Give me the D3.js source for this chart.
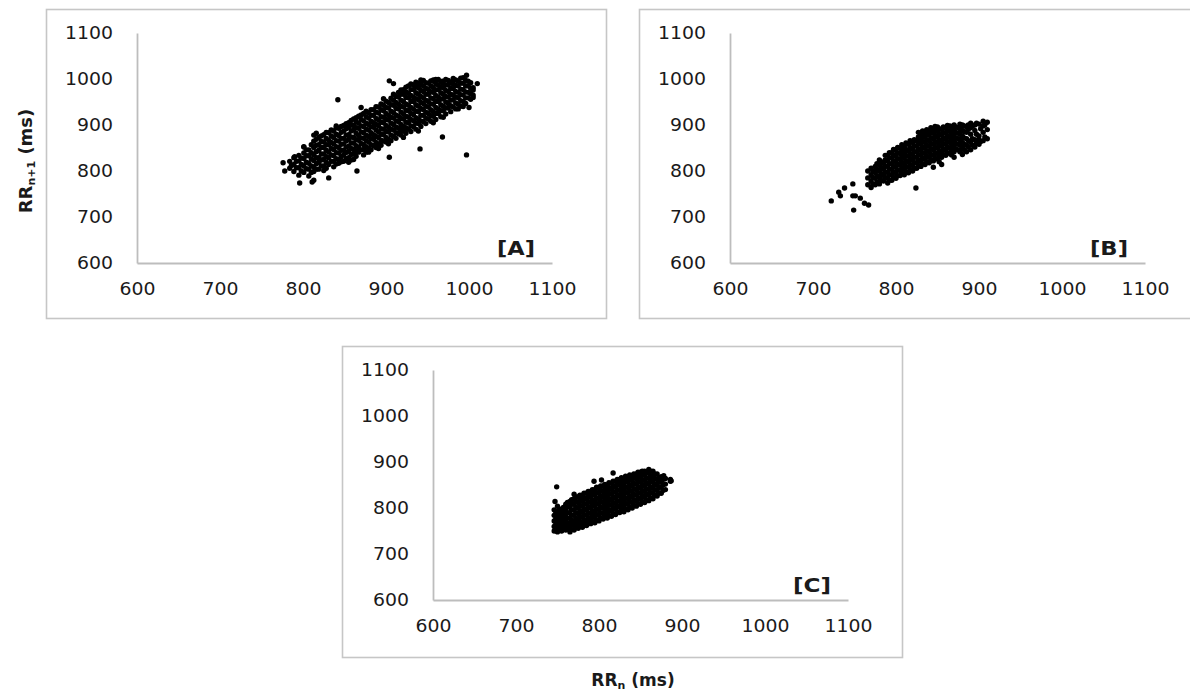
<!DOCTYPE html>
<html>
<head>
<meta charset="utf-8">
<script src="https://cdn.jsdelivr.net/npm/d3@7"></script>
<style>
  body { margin: 0; background: #fff; }
  text { font-family: "DejaVu Sans", sans-serif; fill: #1a1a1a; }
</style>
</head>
<body>
<div id="chart"></div>
<script>
// tick values shared by both axes of every panel
const tickValues = [600, 700, 800, 900, 1000, 1100];
const panelLabels = ['[A]', '[B]', '[C]'];

// RR intervals (ms): [RRn, [RRn+1 values...]]
const columnsA = [
  [784, [806, 821]], [789, [799, 814, 829]], [795, [791, 807, 822, 834]],
  [801, [797, 811, 827, 839, 853]], [807, [789, 804, 817, 833, 846]],
  [813, [799, 809, 823, 835, 851, 865]], [819, [804, 819, 829, 845, 857, 873]],
  [825, [801, 811, 825, 837, 851, 863, 879]], [831, [814, 829, 841, 857, 867, 883]],
  [837, [809, 821, 833, 847, 859, 873, 887]], [843, [817, 825, 839, 851, 865, 877, 893]],
  [849, [821, 835, 845, 859, 871, 887, 899]], [855, [819, 829, 843, 854, 869, 879, 895, 905]],
  [861, [825, 837, 847, 861, 873, 889, 899, 913]], [867, [841, 851, 867, 877, 893, 904, 919]],
  [873, [835, 847, 857, 871, 883, 897, 909, 925]], [879, [841, 849, 863, 875, 889, 901, 915, 927]],
  [885, [855, 869, 879, 895, 905, 921, 933]], [891, [849, 859, 873, 885, 899, 911, 926, 939]],
  [897, [865, 879, 891, 905, 917, 931, 943, 957]], [903, [859, 869, 885, 895, 911, 921, 937, 949]],
  [909, [875, 889, 901, 915, 927, 943, 954, 967]], [915, [881, 893, 907, 919, 935, 945, 961, 971]],
  [921, [873, 887, 897, 913, 924, 939, 951, 967, 977]], [927, [891, 905, 917, 931, 943, 959, 969, 985]],
  [933, [897, 909, 923, 935, 951, 961, 977, 987]], [939, [887, 903, 913, 929, 941, 955, 967, 981, 991]],
  [945, [907, 921, 933, 947, 959, 973, 985, 997]], [951, [913, 925, 939, 951, 967, 977, 991]],
  [957, [905, 919, 929, 945, 957, 971, 981, 995]], [963, [925, 935, 951, 961, 977, 987, 999]],
  [969, [917, 931, 941, 957, 967, 981, 991]], [975, [937, 947, 961, 973, 987, 997]],
  [981, [939, 955, 965, 979, 989, 1001]], [987, [935, 945, 959, 971, 985, 995]],
  [993, [951, 965, 977, 991, 1003]], [999, [959, 971, 985, 995]], [1005, [965, 981]]
];
const fillA = [
  [792, [807, 821]], [798, [800, 814, 828]], [804, [805, 819, 833, 846]],
  [810, [797, 811, 826, 840, 857]], [816, [804, 816, 829, 842, 856, 869]],
  [822, [811, 824, 837, 851, 864, 876]], [828, [806, 819, 831, 845, 857, 871, 884]],
  [834, [821, 835, 849, 862, 876, 889]], [840, [815, 827, 840, 853, 866, 880, 894]],
  [846, [820, 831, 845, 858, 871, 884, 897]], [852, [827, 840, 852, 865, 878, 892, 903]],
  [858, [824, 836, 849, 861, 874, 887, 900, 910]], [864, [832, 843, 855, 868, 882, 894, 907, 916]],
  [870, [846, 860, 872, 885, 898, 912, 922]], [876, [841, 853, 866, 878, 891, 904, 918, 930]],
  [882, [846, 857, 870, 883, 896, 908, 921, 933]], [888, [851, 862, 875, 889, 901, 914, 928, 940]],
  [894, [856, 867, 880, 892, 906, 918, 933, 946]], [900, [863, 873, 886, 899, 912, 925, 938, 952]],
  [906, [866, 878, 891, 904, 917, 930, 944, 958]], [912, [871, 883, 896, 909, 922, 936, 949, 962]],
  [918, [878, 888, 901, 914, 928, 941, 954, 967, 976]], [924, [882, 894, 906, 919, 932, 946, 960, 972, 982]],
  [930, [886, 898, 912, 925, 938, 951, 964, 977, 989]], [936, [891, 904, 916, 930, 944, 957, 970, 983, 993]],
  [942, [897, 909, 921, 936, 949, 962, 975, 988, 998]], [948, [903, 915, 928, 941, 954, 967, 980, 992]],
  [954, [908, 920, 933, 946, 959, 972, 985, 996]], [960, [912, 925, 938, 951, 964, 976, 989, 999]],
  [966, [918, 931, 944, 956, 970, 982, 994]], [972, [924, 937, 950, 962, 975, 987, 999]],
  [978, [929, 942, 954, 967, 980, 993]], [984, [935, 948, 961, 973, 986, 998]],
  [990, [941, 953, 966, 978, 991, 1002]], [996, [947, 959, 972, 985, 997]],
  [1002, [956, 968, 980, 992]]
];
const outliersA = [
  [842, 955], [997, 835], [968, 874], [941, 848], [904, 830], [865, 800], [831, 785],
  [796, 774], [811, 776], [813, 780], [776, 818], [778, 800], [790, 831], [786, 812],
  [801, 852], [813, 878], [816, 882], [840, 898], [870, 938], [904, 996], [909, 990],
  [1010, 990], [997, 1008], [1005, 976], [1005, 960], [1000, 938], [993, 940],
  [957, 998], [968, 995], [982, 998]
];

const columnsB = [
  [766, [770, 785, 800]], [770, [764, 778, 792, 806]], [775, [770, 784, 797, 810]],
  [780, [772, 786, 800, 814, 824]], [785, [778, 790, 804, 818]],
  [790, [774, 786, 798, 810, 822, 834]], [795, [780, 792, 804, 816, 828, 840]],
  [800, [784, 796, 808, 820, 832, 845]], [805, [790, 801, 813, 825, 838, 850]],
  [810, [792, 804, 816, 828, 840, 854]], [815, [796, 808, 820, 832, 844, 858]],
  [820, [800, 812, 824, 836, 848, 862]], [825, [806, 818, 830, 842, 854, 866]],
  [830, [810, 822, 834, 846, 858, 870, 880]], [835, [814, 826, 838, 850, 862, 874, 884]],
  [840, [818, 830, 842, 854, 866, 878, 888]], [845, [808, 822, 834, 846, 858, 870, 882, 892]],
  [850, [826, 838, 850, 862, 874, 886, 896]], [855, [814, 830, 842, 854, 866, 878, 890]],
  [860, [834, 846, 858, 870, 882, 894]], [865, [838, 850, 862, 874, 886, 898]],
  [870, [830, 842, 854, 866, 878, 890, 900]], [875, [846, 858, 870, 882, 894]],
  [880, [836, 850, 862, 876, 888, 900]], [885, [842, 856, 870, 884, 896]],
  [890, [846, 862, 880, 894, 904]], [895, [852, 868, 888, 900]],
  [900, [858, 868, 876, 902]], [905, [866, 884, 898, 908]], [910, [870, 890, 906]]
];
const fillB = [
  [772, [772, 786, 800]], [777, [776, 790, 804, 816]], [782, [780, 794, 808, 820]],
  [787, [784, 797, 811, 824, 834]], [792, [780, 792, 804, 816, 829, 840]],
  [797, [786, 798, 810, 822, 835, 847]], [802, [790, 802, 814, 827, 839, 851]],
  [807, [795, 807, 819, 832, 845, 857]], [812, [798, 810, 822, 834, 847, 861]],
  [817, [802, 814, 826, 838, 851, 866]], [822, [806, 818, 830, 842, 855, 868]],
  [827, [812, 824, 836, 848, 861, 874, 884]], [832, [816, 828, 840, 852, 864, 876, 887]],
  [837, [820, 832, 844, 856, 868, 880, 890]], [842, [824, 836, 848, 860, 872, 884, 894]],
  [847, [828, 840, 852, 864, 876, 889, 897]], [852, [820, 832, 844, 856, 868, 880, 892]],
  [857, [836, 848, 860, 872, 884, 896]], [862, [840, 852, 864, 876, 888, 899]],
  [867, [835, 846, 858, 870, 882, 894]], [872, [848, 860, 872, 884, 896]],
  [877, [842, 856, 868, 880, 892, 902]], [882, [846, 858, 872, 886, 898]],
  [887, [852, 866, 890, 900]], [892, [856, 870, 898]], [897, [860, 880, 904]],
  [902, [864, 892]], [907, [874, 900]]
];
const outliersB = [
  [722, 735], [731, 754], [733, 746], [738, 763], [748, 772], [748, 746], [751, 746],
  [757, 741], [762, 730], [767, 726], [749, 715], [824, 763], [811, 846]
];

const columnsC = [
  [746, [750, 760, 772, 784, 796]], [750, [748, 758, 768, 780, 792, 804]],
  [755, [750, 760, 770, 782, 794]], [760, [752, 762, 772, 784, 796, 808]],
  [765, [748, 758, 768, 778, 790, 802, 814]], [770, [752, 762, 772, 784, 796, 808, 820]],
  [775, [756, 766, 776, 788, 800, 812, 824]], [780, [758, 768, 780, 792, 804, 816, 828]],
  [785, [762, 772, 784, 796, 808, 820, 832]], [790, [766, 776, 788, 800, 812, 824, 836]],
  [795, [768, 780, 792, 804, 816, 828, 840]], [800, [772, 784, 796, 808, 820, 832, 844]],
  [805, [776, 788, 800, 812, 824, 836, 848]], [810, [778, 790, 802, 814, 826, 838, 850]],
  [815, [782, 794, 806, 818, 830, 842, 854]], [820, [786, 798, 810, 822, 834, 846, 858]],
  [825, [790, 802, 814, 826, 838, 850, 862]], [830, [792, 804, 816, 828, 840, 852, 864]],
  [835, [796, 808, 820, 832, 844, 856, 868]], [840, [800, 812, 824, 836, 848, 860, 870]],
  [845, [804, 816, 828, 840, 852, 864, 874]], [850, [808, 820, 832, 844, 856, 868, 878]],
  [855, [812, 824, 836, 848, 860, 872, 880]], [860, [816, 828, 840, 852, 864, 876, 884]],
  [865, [820, 832, 844, 856, 868, 880]], [870, [826, 838, 850, 862, 874]],
  [875, [832, 846, 858, 868]], [880, [840, 852, 864]], [886, [858, 862]]
];
const fillC = [
  [748, [754, 765, 777, 790]], [752, [753, 763, 774, 786, 798]], [757, [755, 766, 777, 789, 801]],
  [762, [757, 767, 778, 790, 802, 812]], [767, [753, 763, 773, 784, 796, 808, 818]],
  [772, [757, 767, 778, 790, 802, 814, 824]], [777, [761, 771, 782, 794, 806, 818, 828]],
  [782, [763, 774, 786, 798, 810, 822, 832]], [787, [767, 778, 790, 802, 814, 826, 836]],
  [792, [771, 782, 794, 806, 818, 830, 840]], [797, [774, 786, 798, 810, 822, 834, 845]],
  [802, [778, 790, 802, 814, 826, 838, 848]], [807, [782, 794, 806, 818, 830, 842, 851]],
  [812, [784, 796, 808, 820, 832, 844, 855]], [817, [788, 800, 812, 824, 836, 848, 858]],
  [822, [792, 804, 816, 828, 840, 852, 862]], [827, [796, 808, 820, 832, 844, 856, 866]],
  [832, [798, 810, 822, 834, 846, 858, 869]], [837, [802, 814, 826, 838, 850, 862, 872]],
  [842, [806, 818, 830, 842, 854, 866, 874]], [847, [810, 822, 834, 846, 858, 870, 878]],
  [852, [814, 826, 838, 850, 862, 874, 880]], [857, [818, 830, 842, 854, 866, 878]],
  [862, [822, 834, 846, 858, 870, 880]], [867, [828, 840, 852, 864, 874]],
  [872, [832, 844, 856, 866]], [877, [838, 850, 862]]
];
const outliersC = [
  [749, 846], [817, 876], [794, 858], [803, 861], [770, 830], [777, 826],
  [878, 870], [887, 859], [747, 814]
];

class ScatterPanel {

  constructor(_config, points) {
    this.config = {
      parentElement: _config.parentElement,
      left: _config.left,
      top: _config.top,
      boxWidth: 560,
      boxHeight: _config.boxHeight,
      plotLeft: 91,
      plotTop: 24,
      plotWidth: 415,
      plotHeight: 230,
      label: _config.label
    };
    this.points = points;
    this.initVis();
  }

  initVis() {
    const vis = this;
    const c = vis.config;

    vis.g = c.parentElement.append('g')
      .attr('transform', `translate(${c.left},${c.top})`);

    vis.g.append('rect')
      .attr('x', 0.5).attr('y', 0.5)
      .attr('width', c.boxWidth).attr('height', c.boxHeight)
      .attr('fill', 'none')
      .attr('stroke', '#c6c6c6')
      .attr('stroke-width', 1.6);

    vis.chartArea = vis.g.append('g')
      .attr('transform', `translate(${c.plotLeft},${c.plotTop})`);

    vis.xScale = d3.scaleLinear().domain([600, 1100]).range([0, c.plotWidth]);
    vis.yScale = d3.scaleLinear().domain([600, 1100]).range([c.plotHeight, 0]);

    vis.renderVis();
  }

  renderVis() {
    const vis = this;
    const c = vis.config;

    // axes: plain grey lines, labels only
    const xAxis = vis.chartArea.append('g')
      .attr('transform', `translate(0,${c.plotHeight})`)
      .call(d3.axisBottom(vis.xScale).tickValues(tickValues).tickFormat(d3.format('d'))
        .tickSize(0).tickPadding(20));
    const yAxis = vis.chartArea.append('g')
      .call(d3.axisLeft(vis.yScale).tickValues(tickValues).tickFormat(d3.format('d'))
        .tickSize(0).tickPadding(24));

    [xAxis, yAxis].forEach(ax => {
      ax.select('.domain').attr('stroke', '#bdbdbd').attr('stroke-width', 1.8);
      ax.selectAll('text')
        .attr('font-family', '"DejaVu Sans", sans-serif')
        .attr('font-size', 17)
        .attr('fill', '#1a1a1a')
        .attr('textLength', d => String(d).length * 12)
        .attr('lengthAdjust', 'spacingAndGlyphs');
    });

    vis.chartArea.selectAll('.dot')
      .data(vis.points)
      .enter()
      .append('circle')
      .attr('class', 'dot')
      .attr('cx', d => vis.xScale(d[0]))
      .attr('cy', d => vis.yScale(d[1]))
      .attr('r', 2.7)
      .attr('fill', '#000');

    vis.chartArea.append('text')
      .attr('x', c.plotWidth - 17)
      .attr('y', c.plotHeight - 8)
      .attr('text-anchor', 'end')
      .attr('font-size', 20)
      .attr('font-weight', 'bold')
      .attr('textLength', 38)
      .attr('lengthAdjust', 'spacingAndGlyphs')
      .text(c.label);
  }
}

const flatten = (sets, extra) => sets.flatMap(cols => cols.flatMap(d => d[1].map(y => [d[0], y]))).concat(extra);

const svg = d3.select('#chart').append('svg')
  .attr('width', 1190)
  .attr('height', 693);

new ScatterPanel({ parentElement: svg, left: 46, top: 9, boxHeight: 309, label: panelLabels[0] }, flatten([columnsA, fillA], outliersA));
new ScatterPanel({ parentElement: svg, left: 639, top: 9, boxHeight: 309, label: panelLabels[1] }, flatten([columnsB, fillB], outliersB));
new ScatterPanel({ parentElement: svg, left: 342, top: 346, boxHeight: 311, label: panelLabels[2] }, flatten([columnsC, fillC], outliersC));

// axis titles
const yTitle = svg.append('text')
  .attr('transform', 'translate(32,161) rotate(-90)')
  .attr('text-anchor', 'middle')
  .attr('font-size', 18)
  .attr('font-weight', 'bold');
yTitle.append('tspan').text('RR');
yTitle.append('tspan').attr('font-size', 11).attr('dy', 3).text('n+1');
yTitle.append('tspan').attr('dy', -3).text(' (ms)');

const xTitle = svg.append('text')
  .attr('x', 633)
  .attr('y', 686)
  .attr('text-anchor', 'middle')
  .attr('font-size', 17)
  .attr('font-weight', 'bold');
xTitle.append('tspan').text('RR');
xTitle.append('tspan').attr('font-size', 11).attr('dy', 3).text('n');
xTitle.append('tspan').attr('dy', -3).text(' (ms)');
</script>
</body>
</html>
